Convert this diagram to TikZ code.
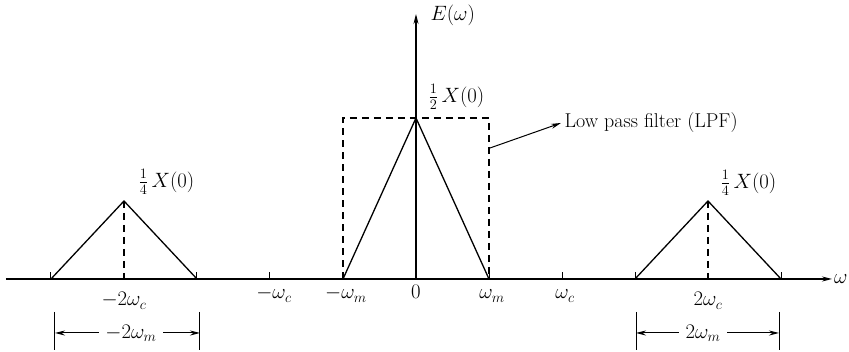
\documentclass[tikz,border=0pt]{standalone}
\usetikzlibrary{arrows.meta,positioning}

\begin{document}
\begin{tikzpicture}[>={Stealth[length=10pt,width=5pt]},x=1pt,y=1pt,line width=1.3pt,font=\fontsize{20}{24}\selectfont,inner sep=1pt]
  \tikzset{dashbox/.style={dash pattern=on 7pt off 5pt},ticklab/.style={anchor=base},dimlab/.style={inner sep=6pt}}
  \useasboundingbox (-416,-73) rectangle (433,279);
  \coordinate (axL) at (-410,0); \coordinate (axR) at (416,0);
  \coordinate (O) at (0,0); \coordinate (top) at (0,265);
  \draw[->] (axL) -- (axR); \draw[->] (O) -- (top);
  \node[right,inner sep=1.5pt] (wlab) at (axR) {$\omega$};
  \node[anchor=west] (Elab) at (13,264) {$E(\omega)$};
  % base points and peaks
  \coordinate (nwm) at (-73,0); \coordinate (wm) at (73,0);
  \coordinate (p0) at (0,161); \coordinate (pl) at (-292,78); \coordinate (pr) at (292,78);
  \coordinate (pl0) at (-292,0); \coordinate (pr0) at (292,0);
  \coordinate (la) at (-365,0); \coordinate (lb) at (-219,0); \coordinate (ra) at (219,0); \coordinate (rb) at (365,0);
  \draw (la) -- (pl) -- (lb); \draw (nwm) -- (p0) -- (wm); \draw (ra) -- (pr) -- (rb);
  \draw[dashbox] (pl) -- (pl0); \draw[dashbox] (pr) -- (pr0);
  \draw[dashbox] (nwm) -- (-73,161) -- (73,161) -- (wm);
  \foreach \t in {-365,-219,-146,-73,73,146,219,365} \draw[line width=1pt] (\t,0) -- (\t,7);
  \node[anchor=west] (half) at (11,182) {$\frac{1}{2}\,X(0)$};
  \node[anchor=west] (qleft) at (-279,97) {$\frac{1}{4}\,X(0)$};
  \node[anchor=west] (qright) at (303,96) {$\frac{1}{4}\,X(0)$};
  % tick labels
  \node[ticklab] (lm2c) at (-292,-27) {$-2\omega_c$};
  \node[ticklab] (lmc) at (-142,-20) {$-\omega_c$};
  \node[ticklab] (lmm) at (-70,-20) {$-\omega_m$};
  \node[ticklab] (l0) at (0,-20) {$0$};
  \node[ticklab] (lpm) at (76,-20) {$\omega_m$};
  \node[ticklab] (lpc) at (149,-20) {$\omega_c$};
  \node[ticklab] (lp2c) at (292,-27) {$2\omega_c$};
  % bandwidth marks
  \coordinate (bl1) at (-361,-33); \coordinate (bl2) at (-216,-33);
  \coordinate (br1) at (220,-33); \coordinate (br2) at (363,-33);
  \draw[line width=1pt] (bl1) -- ++(0,-38); \draw[line width=1pt] (bl2) -- ++(0,-38);
  \draw[line width=1pt] (br1) -- ++(0,-38); \draw[line width=1pt] (br2) -- ++(0,-38);
  \node[dimlab] (dimL) at (-285,-54) {$-2\omega_m$};
  \node[dimlab] (dimR) at (287,-54) {$2\omega_m$};
  \draw[->,line width=1pt] (dimL) -- (bl1 |- dimL); \draw[->,line width=1pt] (dimL) -- (bl2 |- dimL);
  \draw[->,line width=1pt] (dimR) -- (br1 |- dimR); \draw[->,line width=1pt] (dimR) -- (br2 |- dimR);
  % filter label
  \coordinate (lpfs) at (74,131);
  \node[anchor=west,inner sep=3pt] (lpf) at (145,156) {Low pass filter (LPF)};
  \draw[->,line width=1pt] (lpfs) -- (lpf.west);
\end{tikzpicture}
\end{document}
